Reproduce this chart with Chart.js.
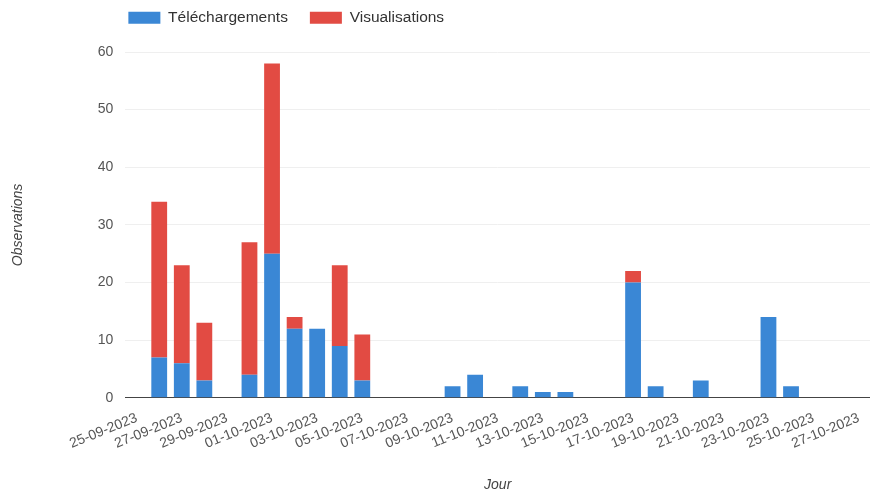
<!DOCTYPE html>
<html lang="fr">
<head>
<meta charset="utf-8">
<title>Observations par jour</title>
<script src="https://cdn.jsdelivr.net/npm/chart.js@4.4.1/dist/chart.umd.min.js"></script>
<style>
  html, body { margin: 0; padding: 0; background: #fff; }
  #wrap { width: 870px; height: 495px; position: relative; }
</style>
</head>
<body>
<div id="wrap"><canvas id="chart"></canvas></div>
<script>
const days = [
  '25-09-2023', '26-09-2023', '27-09-2023', '28-09-2023', '29-09-2023', '30-09-2023',
  '01-10-2023', '02-10-2023', '03-10-2023', '04-10-2023', '05-10-2023', '06-10-2023',
  '07-10-2023', '08-10-2023', '09-10-2023', '10-10-2023', '11-10-2023', '12-10-2023',
  '13-10-2023', '14-10-2023', '15-10-2023', '16-10-2023', '17-10-2023', '18-10-2023',
  '19-10-2023', '20-10-2023', '21-10-2023', '22-10-2023', '23-10-2023', '24-10-2023',
  '25-10-2023', '26-10-2023', '27-10-2023',
];

const telechargements = [
  0, 7, 6, 3, 0, 4, 25, 12, 12, 9, 3, 0,
  0, 0, 2, 4, 0, 2, 1, 1, 0, 0, 20, 2,
  0, 3, 0, 0, 14, 2, 0, 0, 0,
];

const visualisations = [
  0, 27, 17, 10, 0, 23, 33, 2, 0, 14, 8, 0,
  0, 0, 0, 0, 0, 0, 0, 0, 0, 0, 2, 0,
  0, 0, 0, 0, 0, 0, 0, 0, 0,
];

const yTicks = [0, 10, 20, 30, 40, 50, 60];

const FONT = "'Liberation Sans', Arial, sans-serif";

// legend sits over the plot area, not at the canvas edge
const legendShift = {
  id: 'legendShift',
  afterLayout(chart) {
    const pad = chart.options.plugins.legend.labels.padding;
    chart.legend.left = chart.chartArea.left + 3 - pad;
    chart.legend.top = -12;
  },
};

new Chart(document.getElementById('chart'), {
  type: 'bar',
  data: {
    labels: days,
    datasets: [
      {
        label: 'Téléchargements',
        data: telechargements,
        backgroundColor: '#3a87d5',
        barPercentage: 0.7,
        categoryPercentage: 1.0,
      },
      {
        label: 'Visualisations',
        data: visualisations,
        backgroundColor: '#e24b43',
        barPercentage: 0.7,
        categoryPercentage: 1.0,
      },
    ],
  },
  options: {
    responsive: true,
    maintainAspectRatio: false,
    animation: false,
    // plot runs a little past the right edge, as in the cropped original
    layout: { padding: { top: 10, right: -8, bottom: 0, left: 0 } },
    plugins: {
      legend: {
        display: true,
        position: 'top',
        align: 'start',
        maxHeight: 42,
        labels: {
          boxWidth: 32,
          boxHeight: 12,
          padding: 22,
          color: '#333',
          font: { family: FONT, size: 15.5 },
        },
      },
      tooltip: { enabled: false },
    },
    scales: {
      x: {
        stacked: true,
        offset: true,
        grid: { display: false },
        border: { display: true, color: '#444', width: 1 },
        ticks: {
          autoSkip: false,
          minRotation: 22,
          maxRotation: 22,
          padding: 4,
          color: '#555',
          font: { family: FONT, size: 14 },
          callback: (value, index) => (index % 2 === 0 ? days[index] : ''),
        },
        title: {
          display: true,
          text: 'Jour',
          color: '#444',
          padding: { top: 21, bottom: 1 },
          font: { family: FONT, size: 14, style: 'italic' },
        },
      },
      y: {
        stacked: true,
        min: 0,
        max: 60,
        afterBuildTicks: (scale) => {
          scale.ticks = yTicks.map((v) => ({ value: v }));
        },
        grid: { color: '#efefef', drawTicks: false },
        border: { display: false },
        ticks: {
          padding: 12,
          color: '#555',
          font: { family: FONT, size: 14 },
        },
        title: {
          display: true,
          text: 'Observations',
          color: '#444',
          padding: { top: 10, bottom: 59 },
          font: { family: FONT, size: 14, style: 'italic' },
        },
      },
    },
  },
  plugins: [legendShift],
});
</script>
</body>
</html>
